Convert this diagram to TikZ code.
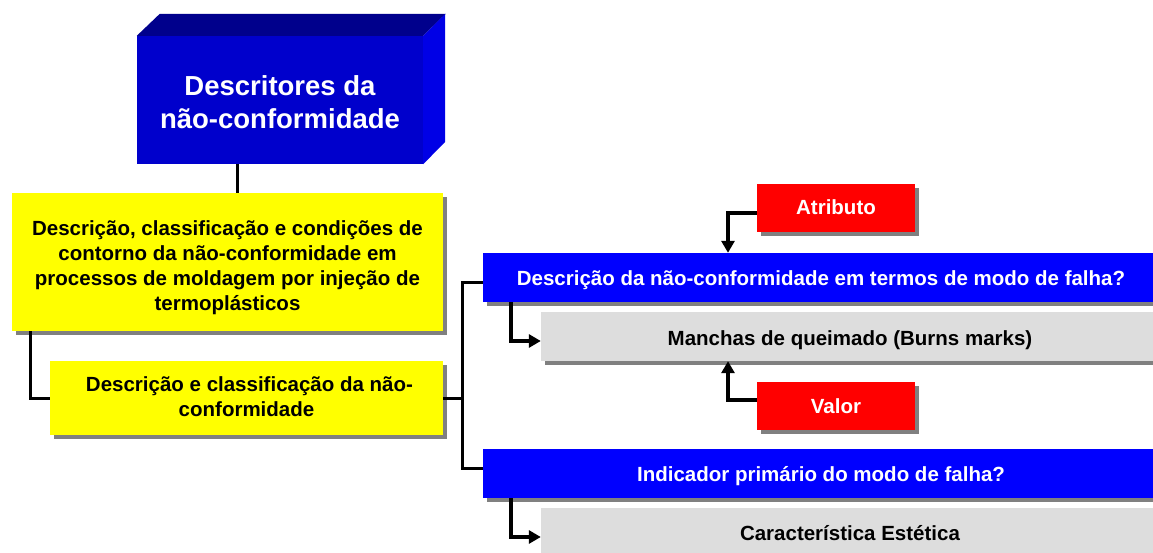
\documentclass[tikz,border=0pt]{standalone}
\usepackage{fontspec}
\setmainfont{Liberation Sans}
\usetikzlibrary{arrows.meta,shadows,calc}
\definecolor{tfront}{RGB}{0,0,204}
\definecolor{ttop}{RGB}{0,0,140}
\definecolor{tside}{RGB}{0,0,230}
\definecolor{ylw}{RGB}{255,255,0}
\definecolor{bl}{RGB}{0,0,255}
\definecolor{rd}{RGB}{255,0,0}
\definecolor{gr}{RGB}{221,221,221}
\definecolor{shd}{RGB}{128,128,128}
\newcommand{\lowtxt}[2]{\raisebox{-#1}[\height][\depth]{\begin{tabular}{@{}c@{}}#2\end{tabular}}}
\tikzset{
  box/.style={inner sep=0pt, font=\bfseries\fontsize{20.5}{25}\selectfont,
     drop shadow={shadow xshift=4pt, shadow yshift=-4pt, fill=shd, opacity=1}},
  ybox/.style={box, fill=ylw, text=black},
  bbox/.style={box, fill=bl, text=white},
  rbox/.style={box, fill=rd, text=white},
  gbox/.style={box, fill=gr, text=black},
  link/.style={draw=black, line width=3pt},
  arr/.style={draw=black, line width=3.2pt, -{Triangle[length=12pt,width=13pt]}},
}
\begin{document}
\begin{tikzpicture}[x=1pt,y=-1pt]
\useasboundingbox (0,0) rectangle (1153,553);
% title 3D box
\node[fill=tfront, text=white, inner sep=0pt, minimum width=286pt, minimum height=128pt,
      font=\bfseries\fontsize{27.5}{33}\selectfont] (title) at (280,100)
      {\lowtxt{5pt}{Descritores da\\n\~ao-conformidade}};
\fill[ttop] (title.north west) -- ++(23,-22) -- ++(286,0) -- (title.north east) -- cycle;
\fill[tside] (title.north east) -- ++(22,-22) -- ++(0,128) -- (title.south east) -- cycle;
% yellow boxes
\node[ybox, minimum width=431pt, minimum height=138pt] (y1) at (227.5,262)
  {\lowtxt{6pt}{Descrição, classificação e condições de\\contorno da não-conformidade em\\processos de moldagem por injeção de\\termoplásticos}};
\node[ybox, minimum width=393pt, minimum height=74pt] (y2) at (246.5,398)
  {\lowtxt{1pt}{\hspace*{6pt}Descrição e classificação da não-\\conformidade}};
% blue boxes
\node[bbox, minimum width=676pt, minimum height=49pt] (b1) at (821,277.5)
  {\lowtxt{3pt}{Descrição da não-conformidade em termos de modo de falha?}};
\node[bbox, minimum width=676pt, minimum height=49pt] (b2) at (821,473.5)
  {\lowtxt{3pt}{Indicador primário do modo de falha?}};
% gray boxes
\node[gbox, minimum width=618pt, minimum height=49pt] (g1) at (850,336.5)
  {\lowtxt{4pt}{Manchas de queimado (Burns marks)}};
\node[gbox, minimum width=618pt, minimum height=49pt] (g2) at (850,532.5)
  {\lowtxt{3pt}{Característica Estética}};
% red boxes
\node[rbox, minimum width=158pt, minimum height=48pt] (atr) at (836,208)
  {\lowtxt{2pt}{Atributo}};
\node[rbox, minimum width=158pt, minimum height=48pt] (val) at (836,406)
  {\lowtxt{2pt}{Valor}};
% helper coordinates
\coordinate (tx) at (237,0);
\coordinate (yx) at (30,0);
\coordinate (jx) at (462,0);
\coordinate (ax) at (728,0);
\coordinate (bx) at (511,0);
% connectors
\draw[link] (tx |- title.south) -- (tx |- y1.north);
\draw[link] (yx |- y1.south) |- (y2.west);
\draw[link] (y2.east) -- (jx |- y2.east);
\draw[link] (jx |- y2.east) |- ([yshift=-4.5pt]b1.west);
\draw[link] (jx |- y2.east) |- ([yshift=5.5pt]b2.west);
\draw[arr] ([yshift=-5pt]atr.west) -| (ax |- b1.north);
\draw[arr] ([yshift=6pt]val.west) -| (ax |- g1.south);
\draw[arr] (bx |- b1.south) |- ([yshift=-4.5pt]g1.west);
\draw[arr] (bx |- b2.south) |- ([yshift=-4.5pt]g2.west);
\end{tikzpicture}
\end{document}
